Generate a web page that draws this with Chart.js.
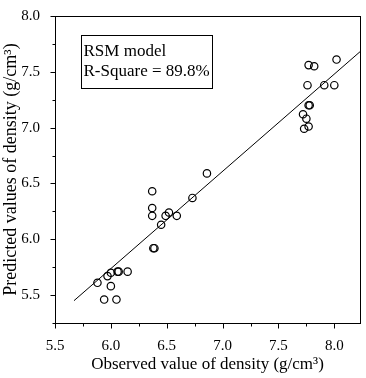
<!DOCTYPE html>
<html>
<head>
<meta charset="utf-8">
<script src="https://cdn.jsdelivr.net/npm/chart.js@4.4.1/dist/chart.umd.min.js"></script>
<style>
  html, body { margin: 0; padding: 0; background: #fff; }
  #wrap { width: 366px; height: 378px; }
</style>
</head>
<body>
<div id="wrap"><canvas id="grafico" width="366" height="378"></canvas></div>
<script>
// data
const observed = [5.88, 5.94, 6.05, 6.00, 5.97, 6.00, 6.06, 6.07, 6.15,
  6.38, 6.39, 6.37, 6.37, 6.37, 6.45, 6.49, 6.52, 6.59, 6.73, 6.86,
  7.73, 7.77, 7.75, 7.72, 7.77, 7.78, 7.76, 7.77, 7.82, 7.91, 8.00, 8.02];
const predicted = [5.61, 5.46, 5.46, 5.58, 5.67, 5.70, 5.71, 5.71, 5.71,
  5.92, 5.92, 6.43, 6.28, 6.21, 6.13, 6.21, 6.24, 6.21, 6.37, 6.59,
  6.99, 7.01, 7.08, 7.12, 7.20, 7.20, 7.38, 7.56, 7.55, 7.38, 7.38, 7.61];

const fitX = [5.67, 8.23];
const fitY = [5.45, 7.68];

const xTicks = [5.5, 6.0, 6.5, 7.0, 7.5, 8.0];
const yTicks = [5.5, 6.0, 6.5, 7.0, 7.5, 8.0];
const xMinor = [5.75, 6.25, 6.75, 7.25, 7.75];
const yMinor = [5.25, 5.75, 6.25, 6.75, 7.25, 7.75];

const legendLines = ["RSM model", "R-Square = 89.8%"];

const fonte = "'Liberation Serif', 'Times New Roman', serif";

// frame, tick marks and text box
const pluginMoldura = {
  id: "moldura",
  afterDraw(chart) {
    const { ctx, chartArea: a, scales } = chart;
    ctx.save();
    ctx.strokeStyle = "#000";
    ctx.lineWidth = 1;
    ctx.strokeRect(Math.round(a.left) + 0.5, Math.round(a.top) + 0.5,
      Math.round(a.right - a.left), Math.round(a.bottom - a.top));

    ctx.beginPath();
    const b = Math.round(a.bottom) + 0.5;
    const l = Math.round(a.left) + 0.5;
    xTicks.forEach(v => {
      const p = Math.round(scales.x.getPixelForValue(v)) + 0.5;
      ctx.moveTo(p, b); ctx.lineTo(p, b + 5);
    });
    xMinor.forEach(v => {
      const p = Math.round(scales.x.getPixelForValue(v)) + 0.5;
      ctx.moveTo(p, b); ctx.lineTo(p, b + 3);
    });
    yTicks.forEach(v => {
      const p = Math.round(scales.y.getPixelForValue(v)) + 0.5;
      ctx.moveTo(l, p); ctx.lineTo(l - 5, p);
    });
    yMinor.forEach(v => {
      const p = Math.round(scales.y.getPixelForValue(v)) + 0.5;
      ctx.moveTo(l, p); ctx.lineTo(l - 3, p);
    });
    ctx.stroke();

    // text box
    const bx = a.left + 26.5, by = a.top + 19.5;
    ctx.strokeRect(bx, by, 131, 53);
    ctx.fillStyle = "#000";
    ctx.font = "17px " + fonte;
    ctx.textBaseline = "alphabetic";
    ctx.fillText(legendLines[0], bx + 2, by + 20);
    ctx.fillText(legendLines[1], bx + 2, by + 40);
    ctx.restore();
  }
};

new Chart(document.getElementById("grafico"), {
  type: "scatter",
  data: {
    datasets: [
      {
        label: "RSM",
        data: observed.map((v, i) => ({ x: v, y: predicted[i] })),
        pointStyle: "circle",
        pointRadius: 3.7,
        pointBorderWidth: 1.2,
        pointBorderColor: "#000",
        pointBackgroundColor: "rgba(0,0,0,0)",
        showLine: false
      },
      {
        label: "fit",
        type: "line",
        data: fitX.map((v, i) => ({ x: v, y: fitY[i] })),
        borderColor: "#000",
        borderWidth: 1,
        pointRadius: 0,
        fill: false
      }
    ]
  },
  options: {
    responsive: false,
    animation: false,
    devicePixelRatio: 1,
    layout: { padding: { top: 10, right: 6, left: 0, bottom: 0 } },
    plugins: { legend: { display: false }, tooltip: { enabled: false } },
    scales: {
      x: {
        type: "linear",
        min: 5.5,
        max: 8.23,
        afterBuildTicks: s => { s.ticks = xTicks.map(v => ({ value: v })); },
        afterFit: s => { s.height = 55; },
        grid: { display: false },
        border: { display: false },
        ticks: {
          padding: 6,
          color: "#000",
          font: { family: fonte, size: 15 },
          callback: v => v.toFixed(1)
        },
        title: {
          display: true,
          text: "Observed value of density (g/cm³)",
          color: "#000",
          font: { family: fonte, size: 17 },
          padding: { top: 0, bottom: 3 }
        }
      },
      y: {
        type: "linear",
        min: 5.25,
        max: 8.0,
        afterBuildTicks: s => { s.ticks = yTicks.map(v => ({ value: v })); },
        afterFit: s => { s.width = 55; },
        grid: { display: false },
        border: { display: false },
        ticks: {
          padding: 7,
          color: "#000",
          font: { family: fonte, size: 15 },
          callback: v => v.toFixed(1)
        },
        title: {
          display: true,
          text: "Predicted values of density (g/cm³)",
          color: "#000",
          font: { family: fonte, size: 18 },
          padding: { top: 0, bottom: 0 }
        }
      }
    }
  },
  plugins: [pluginMoldura]
});
</script>
</body>
</html>
